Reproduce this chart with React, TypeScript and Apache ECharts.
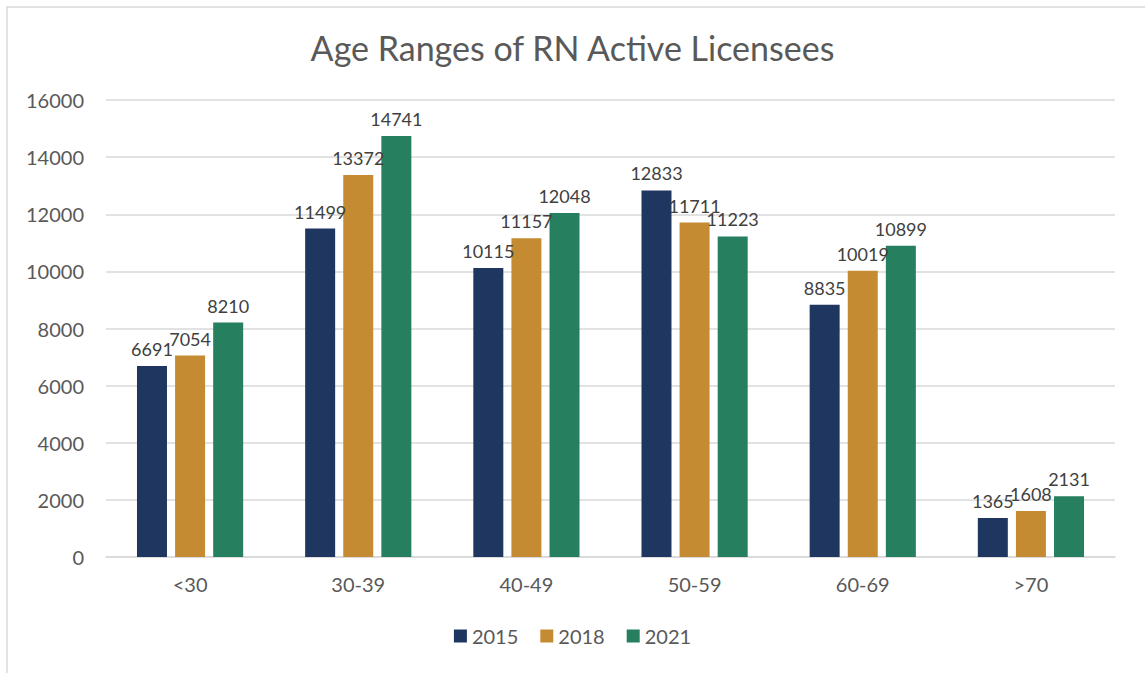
import React, { useEffect, useRef } from "react";
import * as echarts from "echarts";

const categories = ["<30", "30-39", "40-49", "50-59", "60-69", ">70"];
const s2015 = [6691, 11499, 10115, 12833, 8835, 1365];
const s2018 = [7054, 13372, 11157, 11711, 10019, 1608];
const s2021 = [8210, 14741, 12048, 11223, 10899, 2131];
const seriesNames = ["2015", "2018", "2021"];
const colors = ["#1F3760", "#C48B32", "#267F5E"];

const FONT = "Lato, 'Open Sans', sans-serif";

export default function App() {
  const ref = useRef<HTMLDivElement>(null);
  useEffect(() => {
    if (!ref.current) return;
    const chart = echarts.init(ref.current, null, { renderer: "svg" });
    const data = [s2015, s2018, s2021];
    chart.setOption({
      animation: false,
      textStyle: { fontFamily: FONT },
      title: {
        text: "Age Ranges of RN Active Licensees",
        left: "center",
        top: 25,
        textStyle: { fontSize: 34, fontWeight: "normal", color: "#595959", fontFamily: FONT },
      },
      legend: {
        bottom: 22,
        left: "center",
        itemWidth: 13,
        itemHeight: 13,
        itemGap: 22,
        icon: "rect",
        textStyle: { fontSize: 20, color: "#595959", fontFamily: FONT },
        data: seriesNames,
      },
      grid: { left: 106, right: 30, top: 100, bottom: 116, containLabel: false },
      xAxis: {
        type: "category",
        data: categories,
        axisTick: { show: false },
        axisLine: { lineStyle: { color: "#d9d9d9", width: 1.5 } },
        axisLabel: { fontSize: 20, color: "#595959", margin: 17, fontFamily: FONT },
      },
      yAxis: {
        type: "value",
        min: 0,
        max: 16000,
        interval: 2000,
        axisLabel: {
          fontSize: 20,
          color: "#595959",
          margin: 22,
          fontFamily: FONT,
          formatter: (v: number) => String(v),
        },
        splitLine: { lineStyle: { color: "#d9d9d9", width: 1.5 } },
        axisLine: { show: false },
        axisTick: { show: false },
      },
      graphic: [
        {
          type: "rect",
          shape: { x: 7, y: 7, width: 1160, height: 700 },
          style: { fill: "none", stroke: "#d9d9d9", lineWidth: 1.5 },
          silent: true,
        },
      ],
      series: seriesNames.map((name, i) => ({
        name,
        type: "bar",
        data: data[i],
        barWidth: 30,
        barGap: "27%",
        itemStyle: { color: colors[i] },
        label: {
          show: true,
          position: "top",
          distance: 8,
          fontSize: 18,
          color: "#404040",
          fontFamily: FONT,
        },
      })),
    });
    return () => chart.dispose();
  }, []);
  return (
    <div
      ref={ref}
      style={{ position: "absolute", left: 0, top: 0, width: 1145, height: 673, background: "#fff" }}
    />
  );
}
